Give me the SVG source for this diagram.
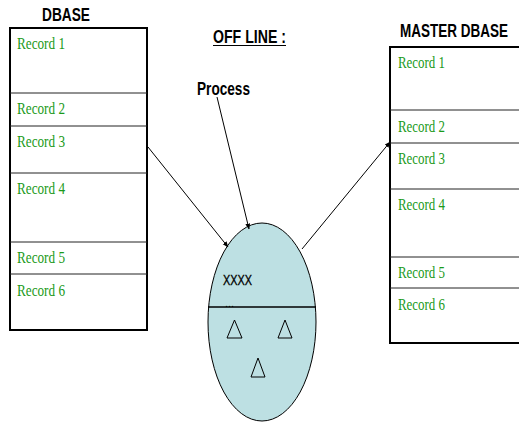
<svg xmlns="http://www.w3.org/2000/svg" width="519" height="423" viewBox="0 0 519 423">
<defs>
<style>
.box{fill:#fff;stroke:#000;stroke-width:2}
.div{stroke:#222;stroke-width:1}
.rec{font-family:"Liberation Serif","Times New Roman",serif;font-size:16.5px;fill:#1a9a1a}
.title{font-family:"Liberation Sans",Arial,sans-serif;font-size:18px;font-weight:bold;fill:#000}
.conn{stroke:#000;stroke-width:1;fill:none;marker-end:url(#ah)}
</style>
<marker id="ah" viewBox="0 0 10 10" refX="9" refY="5" markerWidth="6" markerHeight="6" orient="auto" markerUnits="userSpaceOnUse">
<path d="M0,1 L10,5 L0,9 z" fill="#000"/>
</marker>
</defs>
<rect width="519" height="423" fill="#fff"/>
<g id="dbase">
<text class="title" x="42" y="21" textLength="48" lengthAdjust="spacingAndGlyphs">DBASE</text>
<rect class="box" x="10" y="28" width="137" height="302"/>
<line class="div" x1="10" y1="93" x2="147" y2="93"/>
<line class="div" x1="10" y1="126" x2="147" y2="126"/>
<line class="div" x1="10" y1="173" x2="147" y2="173"/>
<line class="div" x1="10" y1="242" x2="147" y2="242"/>
<line class="div" x1="10" y1="274" x2="147" y2="274"/>
<text class="rec" x="17" y="49" textLength="48" lengthAdjust="spacingAndGlyphs">Record 1</text>
<text class="rec" x="17" y="114" textLength="48" lengthAdjust="spacingAndGlyphs">Record 2</text>
<text class="rec" x="17" y="147" textLength="48" lengthAdjust="spacingAndGlyphs">Record 3</text>
<text class="rec" x="17" y="194" textLength="48" lengthAdjust="spacingAndGlyphs">Record 4</text>
<text class="rec" x="17" y="263" textLength="48" lengthAdjust="spacingAndGlyphs">Record 5</text>
<text class="rec" x="17" y="296" textLength="48" lengthAdjust="spacingAndGlyphs">Record 6</text>
</g>
<g id="master">
<text class="title" transform="translate(400,37) scale(1,1.3)" style="font-size:13.5px">MASTER DBASE</text>
<rect class="box" x="390" y="47" width="140" height="296"/>
<line class="div" x1="390" y1="110" x2="519" y2="110"/>
<line class="div" x1="390" y1="143" x2="519" y2="143"/>
<line class="div" x1="390" y1="189" x2="519" y2="189"/>
<line class="div" x1="390" y1="257" x2="519" y2="257"/>
<line class="div" x1="390" y1="288" x2="519" y2="288"/>
<text class="rec" x="398" y="68" textLength="47" lengthAdjust="spacingAndGlyphs">Record 1</text>
<text class="rec" x="398" y="132" textLength="47" lengthAdjust="spacingAndGlyphs">Record 2</text>
<text class="rec" x="398" y="164" textLength="47" lengthAdjust="spacingAndGlyphs">Record 3</text>
<text class="rec" x="398" y="210" textLength="47" lengthAdjust="spacingAndGlyphs">Record 4</text>
<text class="rec" x="398" y="278" textLength="47" lengthAdjust="spacingAndGlyphs">Record 5</text>
<text class="rec" x="398" y="310" textLength="47" lengthAdjust="spacingAndGlyphs">Record 6</text>
</g>
<g id="offline">
<text class="title" x="213" y="43" textLength="73" lengthAdjust="spacingAndGlyphs">OFF LINE :</text>
<line x1="213" y1="45.5" x2="286" y2="45.5" stroke="#000" stroke-width="1.2"/>
</g>
<g id="process">
<text class="title" x="197" y="95" textLength="53" lengthAdjust="spacingAndGlyphs">Process</text>
</g>
<g id="processor">
<ellipse cx="262" cy="322" rx="54" ry="99" fill="#bde0e3" stroke="#000" stroke-width="1"/>
<line x1="208" y1="307" x2="316" y2="307" stroke="#000" stroke-width="1.5"/>
<text x="223" y="285" font-family="Liberation Sans,Arial,sans-serif" font-size="14" fill="#000" stroke="#000" stroke-width="0.3" textLength="29" lengthAdjust="spacingAndGlyphs">XXXX</text>
<text x="225" y="307" font-family="Liberation Sans,Arial,sans-serif" font-size="11" fill="#000">...</text>
<path d="M234.5,320 L227,338 L242,338 Z M285,320 L278,338 L292,338 Z M258,358 L251,377 L265,377 Z" fill="none" stroke="#000" stroke-width="1"/>
</g>
<g id="connectors">
<line class="conn" x1="148" y1="147" x2="228" y2="247"/>
<line class="conn" x1="217" y1="97" x2="249" y2="229"/>
<line class="conn" x1="302" y1="249" x2="390" y2="142"/>
</g>
</svg>
